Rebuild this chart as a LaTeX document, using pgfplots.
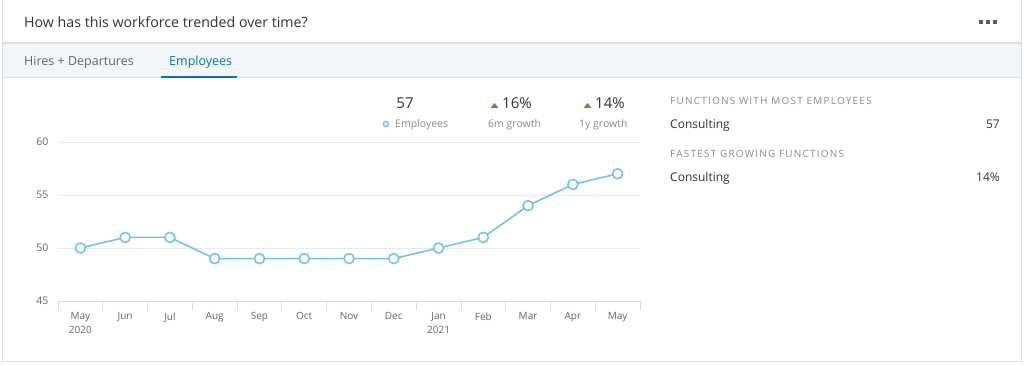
\documentclass[border=0pt]{standalone}
\usepackage{pgfplots}
\pgfplotsset{compat=1.18}
\usepackage{fontspec}
\setmainfont{Open Sans}
\newfontfamily\spaced[LetterSpace=12]{Open Sans}
\definecolor{cardborder}{HTML}{DCDFE2}
\definecolor{tabbg}{HTML}{F3F6F8}
\definecolor{titlec}{HTML}{333333}
\definecolor{graytext}{HTML}{666666}
\definecolor{lightgray}{HTML}{8A8A8A}
\definecolor{activeblue}{HTML}{0A73B1}
\definecolor{linec}{HTML}{72C5E8}
\definecolor{gridc}{HTML}{EAEAEA}
\definecolor{axisc}{HTML}{CFDBEF}
\definecolor{greenc}{HTML}{4F9D35}
\begin{document}
\begin{tikzpicture}[x=1pt,y=1pt]
\useasboundingbox (0,0) rectangle (1024,364);
\fill[white] (0,0) rectangle (1024,364);
% card
\draw[cardborder, line width=1pt] (2.5,2.5) rectangle (1021.5,370);
% tab bar
\fill[tabbg] (3,286) rectangle (1021,321);
\draw[cardborder, line width=1.2pt] (3,321) -- (1021,321);
\draw[cardborder, line width=1pt] (3,286) -- (1021,286);
% title
\node[anchor=west, font=\fontsize{14.2}{17}\selectfont, text=titlec, inner sep=0] at (24,342) {How has this workforce trended over time?};
% dots
\foreach \xx in {981,988,995} \fill[titlec!80] (\xx-1.6,340.4) rectangle (\xx+1.6,343.6);
% tabs
\node[anchor=west, font=\fontsize{12.5}{15}\selectfont, text=graytext, inner sep=0] at (24,302) {Hires + Departures};
\node[anchor=west, font=\fontsize{12.5}{15}\selectfont, text=activeblue, inner sep=0] at (169,302) {Employees};
\draw[activeblue, line width=2pt] (161,287) -- (237,287);
% header stats
\node[anchor=base, font=\fontsize{15}{18}\selectfont, text=titlec, inner sep=0] at (405,255) {57};
\draw[linec, line width=1.5pt, fill=white] (386,240) circle (2.6);
\node[anchor=base west, font=\fontsize{10.5}{12}\selectfont, text=lightgray, inner sep=0] at (395,236.5) {Employees};
\fill[greenc] (490.5,256) -- (498.5,256) -- (494.5,261) -- cycle;
\node[anchor=base west, font=\fontsize{15}{18}\selectfont, text=titlec, inner sep=0] at (502,255) {16\%};
\node[anchor=base west, font=\fontsize{10.5}{12}\selectfont, text=lightgray, inner sep=0] at (488,236.5) {6m growth};
\fill[greenc] (583.5,256) -- (591.5,256) -- (587.5,261) -- cycle;
\node[anchor=base west, font=\fontsize{15}{18}\selectfont, text=titlec, inner sep=0] at (595,255) {14\%};
\node[anchor=base west, font=\fontsize{10.5}{12}\selectfont, text=lightgray, inner sep=0] at (579,236.5) {1y growth};
% right panel
\node[anchor=base west, font=\spaced\fontsize{10}{12}\selectfont, text=lightgray, inner sep=0] at (670,259) {FUNCTIONS WITH MOST EMPLOYEES};
\node[anchor=base west, font=\fontsize{12}{14}\selectfont, text=titlec, inner sep=0] at (670,235) {Consulting};
\node[anchor=base east, font=\fontsize{12}{14}\selectfont, text=titlec, inner sep=0] at (1000,235) {57};
\node[anchor=base west, font=\spaced\fontsize{10}{12}\selectfont, text=lightgray, inner sep=0] at (670,206) {FASTEST GROWING FUNCTIONS};
\node[anchor=base west, font=\fontsize{12}{14}\selectfont, text=titlec, inner sep=0] at (670,182) {Consulting};
\node[anchor=base east, font=\fontsize{12}{14}\selectfont, text=titlec, inner sep=0] at (1000,182) {14\%};
% chart
\begin{axis}[
  at={(58pt,63pt)}, anchor=south west,
  scale only axis, width=582pt, height=159pt,
  xmin=-0.5, xmax=12.5, ymin=45, ymax=60,
  xtick={0,...,12},
  xticklabels={{May\\2020},Jun,Jul,Aug,Sep,Oct,Nov,Dec,{Jan\\2021},Feb,Mar,Apr,May},
  minor xtick={-0.5,0.5,...,12.5},
  ytick={45,50,55,60},
  /pgf/number format/assume math mode=true,
  axis x line*=bottom, axis y line*=left,
  x axis line style={axisc, line width=1pt},
  y axis line style={draw=none},
  major tick length=0pt, minor tick length=9pt, tick align=outside,
  minor tick style={axisc, line width=0.8pt},
  ymajorgrids, major grid style={gridc, line width=0.8pt},
  xticklabel style={align=center, font=\fontsize{10}{13.5}\selectfont, text=graytext, yshift=-8pt},
  yticklabel style={font=\fontsize{10.5}{12}\selectfont, text=graytext, xshift=-6pt},
  clip=false,
]
\addplot[linec, line width=1.6pt, mark=*, mark size=5pt,
  mark options={fill=white, draw=linec, line width=1.6pt}]
  coordinates {(0,50) (1,51) (2,51) (3,49) (4,49) (5,49) (6,49) (7,49) (8,50) (9,51) (10,54) (11,56) (12,57)};
\end{axis}
\end{tikzpicture}
\end{document}
